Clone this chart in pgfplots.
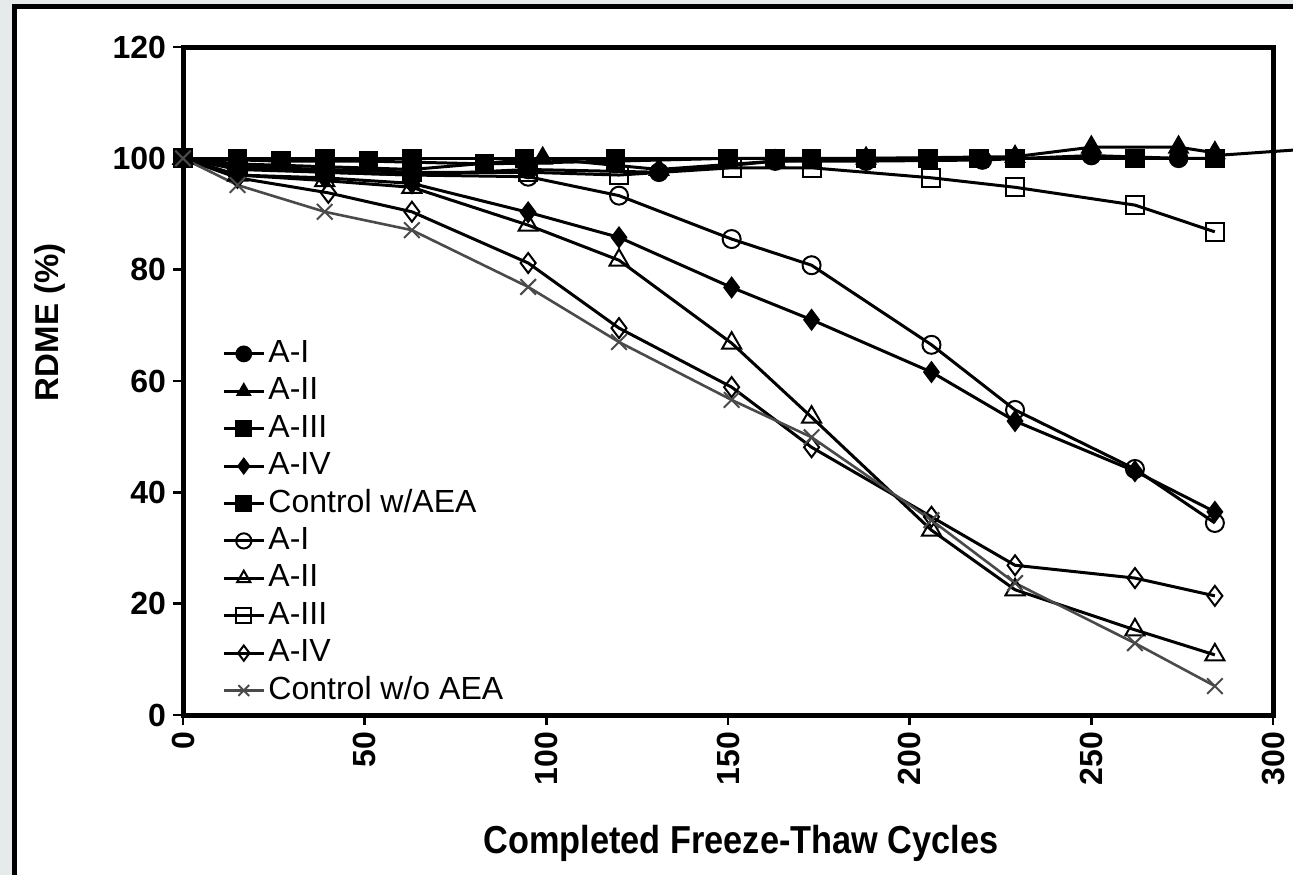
\documentclass[border=0pt]{standalone}
\usepackage{fontspec}
\setmainfont{Liberation Sans}
\usepackage{pgfplots}
\pgfplotsset{compat=1.18}
\definecolor{bggray}{HTML}{E6EAEA}
\definecolor{xgray}{HTML}{4A4A4A}
\begin{document}
\begin{tikzpicture}
\useasboundingbox (0,0) rectangle (646.5pt,437.5pt);
\fill[bggray] (0,0) rectangle (646.5pt,437.5pt);
\fill[white] (7pt,0) rectangle (646.5pt,434pt);
\draw[line width=2.5pt] (7pt,0) -- (7pt,434pt) -- (646.5pt,434pt);
\begin{axis}[
  at={(91.5pt,80pt)}, anchor=south west,
  width=545pt, height=334pt, scale only axis=true,
  xmin=0, xmax=300, ymin=0, ymax=120,
  xtick={0,50,...,300}, ytick={0,20,...,120},
  tick align=outside, tick pos=left,
  major tick length=5pt,
  every tick/.style={line width=1.2pt, black},
  axis line style={line width=2.5pt},
  clip=false,
  /pgf/number format/assume math mode=true,
  ticklabel style={font=\bfseries\fontsize{16}{16}\selectfont},
  xticklabel style={rotate=90, anchor=east},
  xlabel={\scalebox{0.88}[1]{Completed Freeze-Thaw Cycles}},
  xlabel style={font=\bfseries\fontsize{19.5}{19.5}\selectfont, at={(axis description cs:0.512,0)}, anchor=center, yshift=-64pt},
  ylabel={RDME (\%)},
  ylabel style={font=\bfseries\fontsize{16.5}{16.5}\selectfont, at={(axis description cs:-0.122,0.588)}, anchor=center, rotate=0},
  legend cell align=left,
  legend style={at={(axis cs:10.7,68.3)}, anchor=north west, draw=none, fill=none,
    inner sep=0pt, row sep=0pt,
    font=\fontsize{16}{16}\selectfont,
    nodes={text height=12pt, text depth=3.5pt, inner sep=1.6pt}},
  legend image code/.code={\draw[mark repeat=2, mark phase=2, mark size=3.8pt] plot coordinates {(0pt,0pt) (10pt,0pt) (20pt,0pt)};},
  every axis plot/.append style={line width=1.5pt, black, mark size=4.5pt},
]
% filled series
\addplot[mark=*, mark options={solid, fill=black, line width=0.8pt}] coordinates {(0,100) (15,98) (39,97.5) (63,97) (95,98) (131,97.5) (163,99.5) (188,99.5) (220,99.7) (250,100.5) (274,100)};
\addlegendentry{A-I}
\addplot[mark=triangle*, mark options={solid, fill=black, line width=0.8pt}, mark size=5.5pt] coordinates {(0,100) (15,99) (39,98.5) (63,98) (99,100) (131,98) (163,99.5) (188,100) (229,100.3) (250,102) (274,102) (284,101)};
\addlegendentry{A-II}
\addplot[mark=square*, mark options={solid, fill=black, line width=0.8pt}] coordinates {(0,100) (27,99.5) (51,99.5) (83,99) (119,99.5) (150,100) (173,100) (205,100) (229,100) (262,100) (284,100)};
\addlegendentry{A-III}
\addplot[mark=diamond*, mark options={solid, fill=black, line width=0.8pt}, mark size=5pt] coordinates {(0,100) (15,97) (39,96.5) (63,95.5) (95,90.3) (120,85.8) (151,76.8) (173,71) (206,61.6) (229,52.8) (262,43.8) (284,36.5)};
\addlegendentry{A-IV}
\addplot[mark=square*, mark options={solid, fill=black, line width=0.8pt}] coordinates {(0,100) (15,100) (39,100) (63,100) (94,100) (119,100) (150,100) (163,100) (188,100) (219,100) (262,100) (284,100)};
\addlegendentry{Control w/AEA}
% open series
\addplot[mark=o, mark options={solid, fill=white, line width=1pt}] coordinates {(0,100) (15,98.5) (39,97.5) (63,97) (95,96.7) (120,93.3) (151,85.5) (173,80.8) (206,66.5) (229,54.8) (262,44.2) (284,34.5)};
\addlegendentry{A-I}
\addplot[mark=triangle, mark options={solid, fill=white, line width=1pt}, mark size=5.5pt] coordinates {(0,100) (15,97) (39,96) (63,94.8) (95,88) (120,81.7) (151,66.8) (173,53.5) (206,33.2) (229,22.5) (262,15.3) (284,10.8)};
\addlegendentry{A-II}
\addplot[mark=square, mark options={solid, fill=white, line width=1pt}] coordinates {(0,100) (15,98.5) (39,98) (63,97.5) (95,97.5) (120,97) (151,98.3) (173,98.3) (206,96.5) (229,94.8) (262,91.6) (284,86.8)};
\addlegendentry{A-III}
\addplot[mark=diamond, mark options={solid, fill=white, line width=1pt}, mark size=5pt] coordinates {(0,100) (15,96.5) (40,93.8) (63,90.4) (95,81.2) (120,69.5) (151,58.9) (173,48.1) (206,35.6) (229,26.9) (262,24.6) (284,21.4)};
\addlegendentry{A-IV}
\addplot[xgray, line width=1.3pt, mark=x, mark options={solid, line width=1pt}, mark size=5.5pt] coordinates {(0,100) (15,95.2) (39,90.4) (63,87.1) (95,76.9) (120,67) (151,56.6) (173,49.9) (206,35) (229,23.7) (262,12.9) (284,5.2)};
\addlegendentry{Control w/o AEA}
\addplot[forget plot, no marks, line width=1.5pt] coordinates {(284,100.5) (306,101.5)};
\end{axis}
\end{tikzpicture}
\end{document}
